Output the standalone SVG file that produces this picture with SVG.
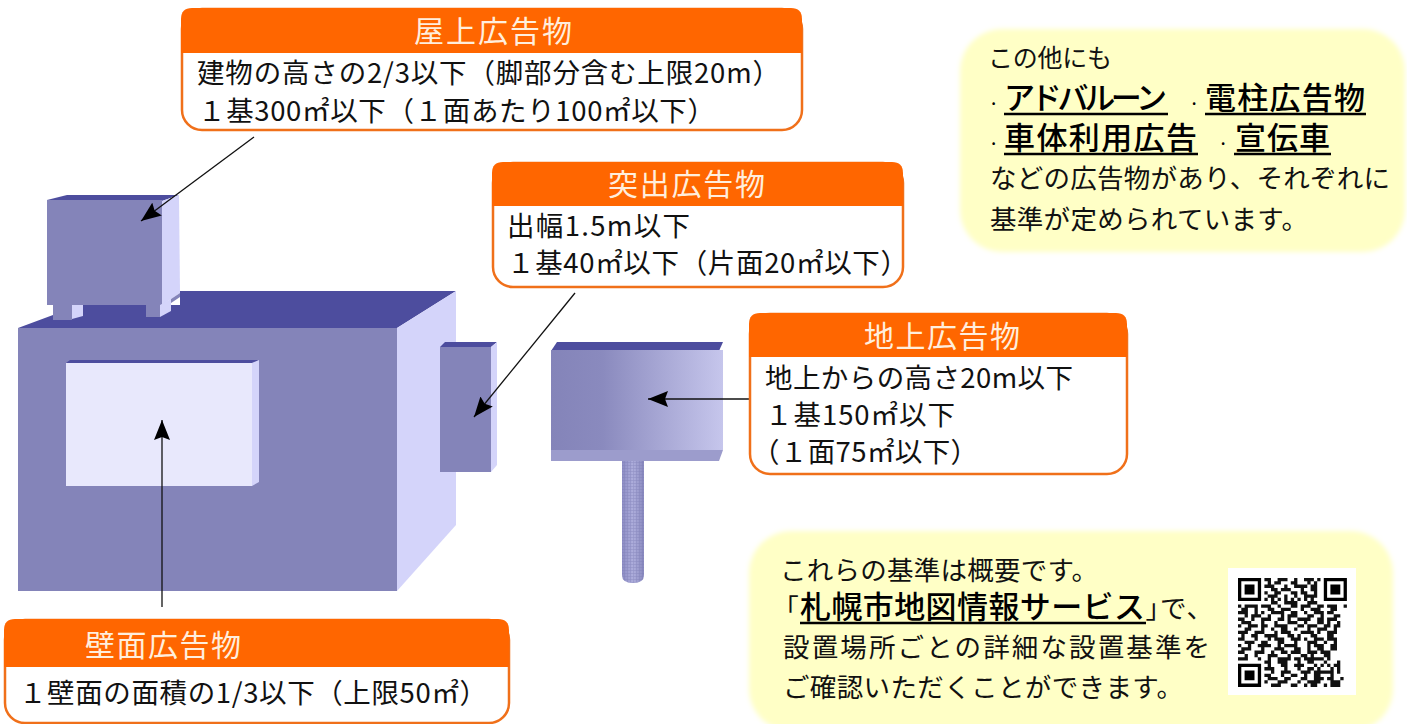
<svg xmlns="http://www.w3.org/2000/svg" width="1407" height="724" viewBox="0 0 1407 724">
<style>
text{font-family:"Noto Sans CJK JP","Noto Sans CJK SC",sans-serif;fill:#111}
.t{font-size:27.5px}
.h{font-size:30px;fill:#ffeedd}
.b{font-size:31px;font-weight:500;fill:#000}
.d{font-size:14px;font-weight:700}
.p{font-feature-settings:"palt"}
.y{font-size:26.5px}
.box{fill:#fff;stroke:#f0701a;stroke-width:2.5}
.hd{fill:#ff6600}
.front{fill:#8484b9}
.top{fill:#4d4d9e}
.side{fill:#d4d4fa}
.note{fill:#ffffc6;filter:url(#soft)}
.ul{stroke:#000;stroke-width:2.5}
.arrow{stroke:#111;stroke-width:1.3;fill:none;marker-end:url(#ah)}
</style>
<defs>
<marker id="ah" markerUnits="userSpaceOnUse" markerWidth="22" markerHeight="16" refX="20" refY="8" orient="auto"><path d="M0 0L20 8L0 16L3 8Z" fill="#000"/></marker>
<linearGradient id="gs"><stop offset="0" stop-color="#8484b9"/><stop offset=".3" stop-color="#8a8abe"/><stop offset="1" stop-color="#c6c6ec"/></linearGradient>
<linearGradient id="gp"><stop offset="0" stop-color="#8c8cc4"/><stop offset=".5" stop-color="#aeaedc"/><stop offset="1" stop-color="#8a8abf"/></linearGradient>
<pattern id="mesh" width="3" height="3" patternUnits="userSpaceOnUse"><path d="M0 .5H3M.5 0V3" stroke="#7878b0" stroke-width=".7" opacity=".45"/></pattern>
<filter id="soft" x="-5%" y="-5%" width="110%" height="110%"><feGaussianBlur stdDeviation="2.5"/></filter>
</defs>

<g id="building">
<path class="top" d="M18 328L53 315V305H180V291H456L397 328Z"/>
<rect class="front" x="18" y="328" width="379" height="263"/>
<path class="side" d="M397 328L456 291V525L397 591Z"/>
</g>
<g id="roof-sign">
<path class="top" d="M47 200L67 195H179L162 201Z"/>
<rect class="front" x="47" y="200" width="115" height="105"/>
<path class="side" d="M162 201L179 195L180 293L162 305Z"/>
<rect class="front" x="53" y="305" width="19" height="15"/>
<path class="side" d="M72 305H83V316L72 319Z"/>
<rect class="front" x="146" y="305" width="14" height="12"/>
<path class="side" d="M160 305L171 299V311L160 317Z"/>
<path class="front" d="M162 305L180 293V297L171 303V299L162 305Z"/>
</g>
<g id="wall-sign">
<path class="top" d="M66 363L70 360H259L252 363Z"/>
<rect x="66" y="363" width="186" height="123" fill="#e8e8fc"/>
<path class="side" d="M252 363L259 360V482L252 486Z"/>
</g>
<g id="projecting-sign">
<path class="top" d="M440 347L445 342H497L491 347Z"/>
<rect class="front" x="440" y="347" width="51" height="125"/>
<path class="side" d="M491 347L497 342V465L491 472Z"/>
</g>
<g id="ground-sign">
<path d="M622 455H644V575Q644 583 633 583T622 575Z" fill="url(#gp)"/>
<path d="M622 455H644V575Q644 583 633 583T622 575Z" fill="url(#mesh)"/>
<path class="top" d="M551 351L557 342H723L719 351Z"/>
<rect x="551" y="350" width="172" height="100" fill="url(#gs)"/>
<path d="M551 450H723L719 461H551Z" fill="#9c9ccc"/>
</g>

<g id="connectors">
<line class="arrow" x1="254" y1="137" x2="141" y2="221"/>
<line class="arrow" x1="575" y1="293" x2="474" y2="417"/>
<line class="arrow" x1="750" y1="399" x2="648" y2="399"/>
<line class="arrow" x1="162" y1="607" x2="162" y2="420"/>
</g>

<g id="roof-label">
<rect class="box" x="182" y="9" width="620" height="121" rx="20"/>
<path class="hd" d="M181 53V19Q181 8 192 8H791Q802 8 802 19V53Z"/>
<text class="h" x="414" y="42" textLength="158">屋上広告物</text>
<text class="t" x="197" y="83" textLength="583">建物の高さの2/3以下（脚部分含む上限20m）</text>
<text class="t" x="198" y="121" textLength="517">１基300㎡以下（１面あたり100㎡以下）</text>
</g>
<g id="projecting-label">
<rect class="box" x="493" y="163" width="410" height="124" rx="20"/>
<path class="hd" d="M492 206V173Q492 162 503 162H892Q903 162 903 173V206Z"/>
<text class="h" x="608" y="195" textLength="157">突出広告物</text>
<text class="t" x="507" y="236" textLength="183">出幅1.5m以下</text>
<text class="t" x="507" y="273" textLength="401">１基40㎡以下（片面20㎡以下）</text>
</g>
<g id="ground-label">
<rect class="box" x="750" y="314" width="377" height="160" rx="20"/>
<path class="hd" d="M749 357V324Q749 313 760 313H1116Q1127 313 1127 324V357Z"/>
<text class="h" x="864" y="347" textLength="156">地上広告物</text>
<text class="t" x="765" y="388" textLength="308">地上からの高さ20m以下</text>
<text class="t" x="765" y="425" textLength="190">１基150㎡以下</text>
<text class="t" x="752" y="462" textLength="226">（１面75㎡以下）</text>
</g>
<g id="wall-label">
<rect class="box" x="5" y="620" width="504" height="103" rx="20"/>
<path class="hd" d="M4 667V630Q4 619 15 619H498Q509 619 509 630V667Z"/>
<text class="h" x="85" y="656" textLength="156">壁面広告物</text>
<text class="t" x="19" y="703" textLength="468">１壁面の面積の1/3以下（上限50㎡）</text>
</g>

<g id="other-note">
<rect class="note" x="960" y="29" width="445" height="223" rx="42"/>
<text x="988" y="67" style="font-size:25px" textLength="124">この他にも</text>
<text y="109" class="b"><tspan class="d" x="989.500">·</tspan><tspan x="1004" textLength="163">アドバルーン</tspan><tspan class="d" x="1190">·</tspan><tspan x="1205" textLength="160">電柱広告物</tspan></text>
<line class="ul" x1="1004" y1="114" x2="1168" y2="114"/>
<line class="ul" x1="1205" y1="114" x2="1366" y2="114"/>
<text y="149" class="b"><tspan class="d" x="989.500">·</tspan><tspan x="1004" textLength="193">車体利用広告</tspan><tspan class="d" x="1219">·</tspan><tspan x="1235" textLength="95">宣伝車</tspan></text>
<line class="ul" x1="1004" y1="154" x2="1198" y2="154"/>
<line class="ul" x1="1234" y1="154" x2="1331" y2="154"/>
<text class="y" x="990" y="188" textLength="400">などの広告物があり、それぞれに</text>
<text class="y" x="990" y="229" textLength="318">基準が定められています。</text>
</g>

<g id="map-note">
<rect class="note" x="749" y="531" width="644" height="200" rx="42"/>
<text class="y" x="780" y="580" textLength="318">これらの基準は概要です。</text>
<text class="y" y="618"><tspan class="p" x="785">「</tspan><tspan class="b" x="800" textLength="345">札幌市地図情報サービス</tspan><tspan class="p" x="1146">」</tspan><tspan x="1160">で</tspan><tspan x="1186.500">、</tspan></text>
<line class="ul" x1="800" y1="623" x2="1146" y2="623"/>
<text class="y" x="783" y="657" textLength="427">設置場所ごとの詳細な設置基準を</text>
<text class="y" x="783" y="697" textLength="400">ご確認いただくことができます。</text>
</g>

<g id="qr-code">
<rect x="1228" y="568" width="128" height="127" fill="#fff"/>
<g transform="translate(1238 578) scale(3.3)">
<path fill="none" stroke="#000" stroke-width="1" d="M.5 .5h6v6h-6zM26.5 .5h6v6h-6zM.5 26.5h6v6h-6z"/>
<path fill="#000" d="M2 2h3v3H2zM28 2h3v3h-3zM2 28h3v3H2z"/>
<path fill="none" stroke="#111" stroke-width="1" d="M8 .5h2m2 0h3m2 0h1m2 0h3m1 0h1
M9 1.5h1m1 0h2m3 0h2m3 0h1m1 0h1
M8 2.5h3m3 0h1m2 0h4m1 0h2
M10 3.5h2m1 0h3m3 0h1m2 0h2
M8 4.5h1m2 0h2m3 0h2m1 0h2m2 0h1
M9 5.5h3m2 0h1m2 0h1m2 0h4
M8 6.5h1m1 0h1m1 0h1m1 0h1m1 0h1m1 0h1m1 0h1m1 0h1
M10 7.5h2m2 0h4m3 0h3
M0 8.5h1m1 0h4m1 0h3m2 0h1m3 0h2m1 0h3m2 0h2m1 0h3m2 0h1
M1 9.5h2m2 0h1m3 0h2m2 0h3m3 0h1m2 0h3m3 0h2
M0 10.5h3m2 0h1m1 0h1m2 0h4m2 0h2m2 0h1m2 0h3m1 0h2
M2 11.5h1m1 0h3m2 0h1m3 0h1m1 0h3m3 0h2m2 0h1m3 0h2
M0 12.5h2m2 0h1m2 0h3m2 0h2m1 0h1m2 0h4m2 0h2m1 0h3
M1 13.5h3m3 0h1m3 0h1m3 0h3m2 0h1m3 0h2m1 0h1m2 0h1
M0 14.5h1m2 0h3m1 0h2m2 0h4m3 0h2m1 0h3m2 0h2m1 0h2
M2 15.5h2m3 0h1m2 0h1m2 0h2m2 0h1m3 0h1m2 0h3m2 0h1
M0 16.5h3m2 0h3m3 0h1m1 0h3m3 0h4m1 0h1m2 0h3
M1 17.5h1m2 0h2m2 0h4m3 0h2m1 0h1m3 0h2m3 0h2
M0 18.5h2m3 0h1m3 0h1m1 0h3m2 0h3m1 0h1m2 0h3m1 0h3
M2 19.5h3m2 0h2m3 0h2m3 0h1m3 0h3m2 0h1m2 0h1
M0 20.5h1m2 0h1m2 0h4m2 0h1m1 0h4m3 0h1m1 0h3m2 0h2
M1 21.5h3m3 0h1m3 0h3m3 0h2m2 0h1m2 0h2m2 0h2
M0 22.5h2m3 0h3m2 0h1m2 0h2m1 0h3m2 0h3m1 0h3
M2 23.5h1m2 0h1m3 0h3m3 0h1m3 0h2m1 0h1m3 0h2
M0 24.5h3m3 0h1m2 0h1m2 0h4m1 0h2m1 0h6m1 0h1
M8 25.5h2m2 0h3m3 0h1m2 0h2m3 0h1m3 0h1
M9 26.5h1m3 0h2m2 0h3m3 0h1m1 0h1m1 0h1m1 0h2
M8 27.5h3m3 0h1m3 0h1m2 0h2m1 0h1m3 0h1m1 0h1
M10 28.5h1m2 0h3m3 0h3m1 0h6m1 0h1
M8 29.5h2m3 0h1m2 0h2m2 0h1m2 0h2m3 0h1
M9 30.5h3m2 0h2m3 0h2m2 0h3m1 0h2m2 0h1
M8 31.5h1m3 0h3m3 0h1m2 0h4m3 0h3
M10 32.5h3m3 0h2m2 0h1m1 0h2m2 0h1m1 0h3"/>
</g>
</g>
</svg>
